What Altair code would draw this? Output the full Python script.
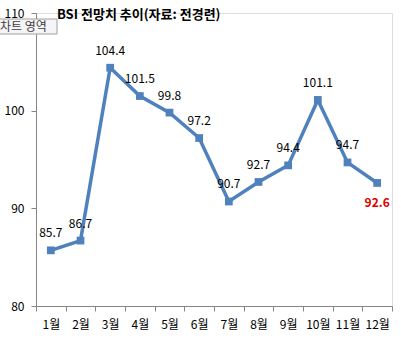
import altair as alt
import pandas as pd

months = ["1월", "2월", "3월", "4월", "5월", "6월", "7월", "8월", "9월", "10월", "11월", "12월"]
values = [85.7, 86.7, 104.4, 101.5, 99.8, 97.2, 90.7, 92.7, 94.4, 101.1, 94.7, 92.6]
title_text = "BSI 전망치 추이(자료: 전경련)"
tooltip_text = "차트 영역"
y_ticks = [80, 90, 100, 110]

df = pd.DataFrame({"month": months, "value": values, "idx": list(range(len(months)))})
df["label"] = [f"{v:.1f}" for v in values]

FONT = "Noto Sans CJK KR"
BLUE = "#4F81BD"

x_enc = alt.X("month:N", sort=months,
              scale=alt.Scale(paddingInner=0, paddingOuter=0),
              axis=alt.Axis(title=None, labelAngle=0, tickBand="extent", tickSize=5,
                            labelPadding=8, labelFontSize=12, labelFont=FONT,
                            labelColor="#000000", domainColor="#868686", tickColor="#868686"))
y_enc = alt.Y("value:Q", scale=alt.Scale(domain=[80, 110], nice=False, zero=False),
              axis=alt.Axis(title=None, values=y_ticks, grid=False, tickSize=5, labelPadding=7,
                            labelFontSize=12, labelFont=FONT, labelColor="#000000",
                            domainColor="#868686", tickColor="#868686"))

base = alt.Chart(df).encode(x=x_enc, y=y_enc)

line = base.mark_line(color=BLUE, strokeWidth=3.5)
points = base.mark_point(shape="square", filled=True, size=60, color=BLUE, opacity=1)
labels = base.transform_filter(alt.datum.idx < 11).mark_text(
    dy=-17, fontSize=12, font=FONT, color="#000000").encode(text="label:N")
last_label = base.transform_filter(alt.datum.idx == 11).mark_text(
    dy=20, fontSize=12, font=FONT, fontWeight="bold", color="#E00000").encode(text="label:N")

one = pd.DataFrame({"t": [title_text], "tt": [tooltip_text]})
title = alt.Chart(one).mark_text(align="left", baseline="middle", fontSize=13, fontWeight="bold",
                                 font=FONT, color="#000000").encode(
    x=alt.value(21), y=alt.value(2), text="t:N")
tip_box = alt.Chart(one).mark_rect(fill="#F5F5F7", stroke="#A0A0A0", strokeWidth=1).encode(
    x=alt.value(-37), x2=alt.value(21), y=alt.value(6), y2=alt.value(21))
tip_text = alt.Chart(one).mark_text(align="left", baseline="middle", fontSize=12, font=FONT,
                                    color="#404040").encode(
    x=alt.value(-36), y=alt.value(13.5), text="tt:N")

chart = alt.layer(line, points, labels, last_label, title, tip_box, tip_text).properties(
    width=356, height=293,
    autosize=alt.AutoSizeParams(type="none"),
    padding={"left": 36, "top": 13, "right": 9, "bottom": 35},
).configure_view(stroke=None).configure(background="white")

chart.save("out.html", embed_options={"renderer": "svg", "actions": False})
